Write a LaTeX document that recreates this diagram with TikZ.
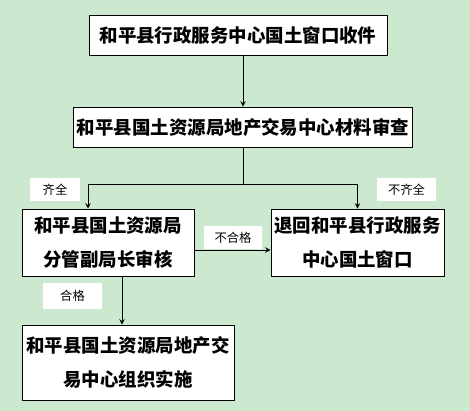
\documentclass[tikz,border=0pt]{standalone}
\usepackage{fontspec}
\newfontfamily\cjk{Noto Sans CJK SC}
\definecolor{sfondo}{RGB}{204,232,207}
\tikzset{
  passo/.style={draw,thin,fill=white,inner sep=2pt,align=center,
    font=\cjk\bfseries\fontsize{10.5}{19}\selectfont},
  etichetta/.style={fill=white,inner sep=1pt,
    font=\cjk\fontsize{7}{8}\selectfont}
}
\begin{document}
\begin{tikzpicture}[>=stealth,x=0.02cm,y=-0.02cm]
        % sfondo
        \fill[sfondo] (0,0) rectangle (470,411);
        % caselle
        \node[passo,minimum width=5.96cm,minimum height=0.8cm] (ricevi) at (238,35) {和平县行政服务中心国土窗口收件};
        \node[passo,minimum width=6.56cm,minimum height=0.8cm] (esame) at (243,127) {和平县国土资源局地产交易中心材料审查};
        \node[passo,minimum width=3.44cm,minimum height=1.34cm] (vaglio) at (108,242.5) {和平县国土资源局\\分管副局长审核};
        \node[passo,minimum width=3.46cm,minimum height=1.34cm] (rinvio) at (357.5,242.5) {退回和平县行政服务\\中心国土窗口};
        \node[passo,minimum width=4.24cm,minimum height=1.5cm] (attua) at (128,362.5) {和平县国土资源局地产交\\易中心组织实施};
        % etichette
        \node[etichetta,minimum width=1cm,minimum height=0.46cm] (completo) at (55,189.5) {齐全};
        \node[etichetta,minimum width=1.18cm,minimum height=0.46cm] (incompleto) at (406.5,189.5) {不齐全};
        \node[etichetta,minimum width=1.16cm,minimum height=0.46cm] (respinto) at (233,237.5) {不合格};
        \node[etichetta,minimum width=1.18cm,minimum height=0.52cm] (idoneo) at (72.5,296) {合格};
        % frecce
        \coordinate (bivio) at (243,184);
        \draw[->] (ricevi.south -| esame.north) -- (esame.north);
        \draw (esame.south) -- (bivio);
        \draw[->] (bivio) -| ([xshift=-0.4cm]vaglio.north);
        \draw[->] (bivio) -| (rinvio.north);
        \draw[->] ([yshift=-0.15cm]vaglio.east) -- ([yshift=-0.15cm]rinvio.west);
        \draw[->] ([xshift=0.28cm]vaglio.south) -- ([xshift=0.28cm]vaglio.south |- attua.north);
    \end{tikzpicture}
\end{document}
